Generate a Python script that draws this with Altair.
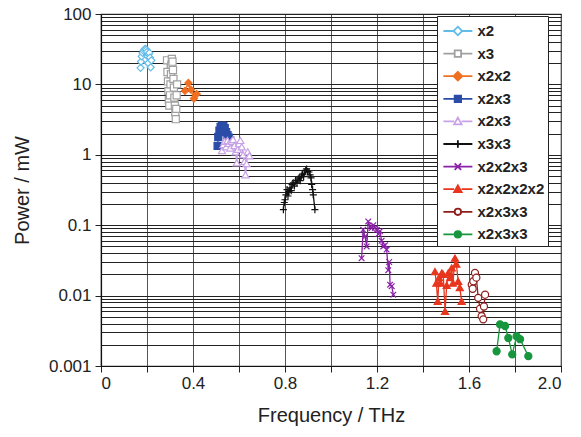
import altair as alt
import pandas as pd

# ---------------- data ----------------
keys = ["x2", "x3", "x2x2", "x2x3", "x2x3 ", "x3x3", "x2x2x3", "x2x2x2x2", "x2x3x3", "x2x3x3 "]
colors = ["#62BCE8", "#A0A0A0", "#F07022", "#2B4DA8", "#C8A2E6", "#111111",
          "#8A22A8", "#E8361E", "#8E1D1D", "#17963E"]
fills = ["white", "white", "#F07022", "#2B4DA8", "white", "transparent",
         "transparent", "#E8361E", "white", "#17963E"]

f_x2 = [0.172, 0.174, 0.177, 0.181, 0.185, 0.189, 0.193, 0.197, 0.200, 0.203, 0.205, 0.207, 0.210, 0.213, 0.216, 0.219]
p_x2 = [17.2, 21, 25, 28, 30, 31.5, 32, 31, 29, 25, 20, 27, 28, 24, 17.5, 22]

f_x3 = [0.287, 0.289, 0.291, 0.293, 0.295, 0.297, 0.300, 0.302, 0.304, 0.306, 0.308,
        0.311, 0.313, 0.315, 0.317, 0.319, 0.321, 0.323, 0.325, 0.327, 0.329, 0.331]
p_x3 = [22, 15, 11, 8, 6, 5, 7, 10, 14, 19, 23, 21, 16, 12, 9, 6.5, 5, 4, 3.2, 4.5, 7, 10]

f_x2x2 = [0.365, 0.380, 0.391, 0.404, 0.416]
p_x2x2 = [8.1, 10.5, 8.4, 6.3, 7.3]

f_x2x3a = [0.507, 0.510, 0.515, 0.520, 0.526, 0.532, 0.538, 0.544, 0.550, 0.556, 0.562, 0.566]
p_x2x3a = [1.34, 1.8, 2.2, 2.5, 2.6, 2.55, 2.4, 2.1, 1.9, 1.75, 1.6, 1.45]

f_x2x3b = [0.526, 0.532, 0.538, 0.544, 0.550, 0.556, 0.562, 0.568, 0.574, 0.580, 0.585,
           0.590, 0.595, 0.600, 0.606, 0.612, 0.618, 0.623, 0.628, 0.633, 0.638, 0.645]
p_x2x3b = [1.15, 1.4, 1.55, 1.3, 1.6, 1.45, 1.25, 1.55, 1.65, 1.35, 1.1,
           0.77, 1.2, 1.45, 1.6, 1.3, 1.0, 0.8, 0.52, 0.75, 1.1, 0.97]

f_x3x3 = [0.793, 0.797, 0.800, 0.804, 0.809, 0.813, 0.817, 0.822, 0.827, 0.831, 0.836, 0.841,
          0.846, 0.852, 0.857, 0.862, 0.866, 0.871, 0.876, 0.881, 0.886, 0.890, 0.894, 0.898,
          0.904, 0.909, 0.913, 0.916, 0.920, 0.923, 0.930]
p_x3x3 = [0.166, 0.21, 0.23, 0.27, 0.32, 0.26, 0.30, 0.34, 0.31, 0.38, 0.40, 0.36,
          0.43, 0.40, 0.45, 0.47, 0.43, 0.50, 0.53, 0.49, 0.57, 0.60, 0.63, 0.58,
          0.57, 0.52, 0.47, 0.38, 0.32, 0.27, 0.166]

f_x2x2x3 = [1.133, 1.140, 1.148, 1.155, 1.162, 1.170, 1.177, 1.184, 1.191, 1.199, 1.206,
            1.213, 1.220, 1.227, 1.235, 1.242, 1.249, 1.253, 1.257, 1.264, 1.271]
p_x2x2x3 = [0.034, 0.086, 0.069, 0.05, 0.113, 0.095, 0.091, 0.10, 0.091, 0.086, 0.075,
            0.082, 0.06, 0.05, 0.052, 0.045, 0.023, 0.03, 0.0143, 0.0136, 0.0103]

f_x2x2x2x2 = [1.452, 1.458, 1.464, 1.470, 1.476, 1.482, 1.488, 1.496, 1.503, 1.510,
              1.518, 1.525, 1.530, 1.539, 1.545, 1.553, 1.560, 1.568]
p_x2x2x2x2 = [0.022, 0.015, 0.0083, 0.018, 0.015, 0.021, 0.02, 0.006, 0.014, 0.021,
              0.018, 0.0247, 0.015, 0.034, 0.028, 0.016, 0.013, 0.0083]

f_x2x3x3a = [1.612, 1.616, 1.619, 1.626, 1.632, 1.640, 1.648, 1.655, 1.662, 1.665, 1.670]
p_x2x3x3a = [0.0143, 0.0125, 0.016, 0.021, 0.018, 0.0093, 0.0065, 0.0051, 0.0046, 0.007, 0.0103]

f_x2x3x3b = [1.720, 1.735, 1.757, 1.771, 1.788, 1.807, 1.822, 1.858]
p_x2x3x3b = [0.00162, 0.0039, 0.0037, 0.0025, 0.00146, 0.00265, 0.0024, 0.00138]

series_f = [f_x2, f_x3, f_x2x2, f_x2x3a, f_x2x3b, f_x3x3, f_x2x2x3, f_x2x2x2x2, f_x2x3x3a, f_x2x3x3b]
series_p = [p_x2, p_x3, p_x2x2, p_x2x3a, p_x2x3b, p_x3x3, p_x2x2x3, p_x2x2x2x2, p_x2x3x3a, p_x2x3x3b]

x_ticks = [0, 0.2, 0.4, 0.6, 0.8, 1.0, 1.2, 1.4, 1.6, 1.8, 2.0]
y_major = [0.001, 0.01, 0.1, 1, 10, 100]

# ---------------- shapes ----------------
PLUS = "M-1,0H1M0,-1V1"
XMARK = "M-0.8,-0.8L0.8,0.8M-0.8,0.8L0.8,-0.8"
shapes = ["diamond", "square", "diamond", "square", "triangle-up", PLUS, XMARK,
          "triangle-up", "circle", "circle"]

rows = []
for k, fs, ps, shp, fl in zip(keys, series_f, series_p, shapes, fills):
    for i, (f, p) in enumerate(zip(fs, ps)):
        rows.append({"key": k, "f": f, "p": p, "i": i, "shp": shp, "fll": fl})
df = pd.DataFrame(rows)

y_grid = []
for mj in y_major[:-1]:
    for j in range(1, 10):
        y_grid.append(float(f"{j * mj:.6g}"))
y_grid.append(100.0)

cx, L0, L1, m = 0.56, -0.82, 1.94, 0.36


def fmt(v):
    return f"{v:.3f}"


def leg_path(kind):
    line_l = f"M{fmt(L0)},0H{fmt(cx - m)}"
    line_r = f"M{fmt(cx + m)},0H{fmt(L1)}"
    if kind == "diamond":
        d = m * 1.15
        mk = f"M{fmt(cx)},{fmt(-d)}L{fmt(cx + d)},0L{fmt(cx)},{fmt(d)}L{fmt(cx - d)},0Z"
    elif kind == "square":
        d = m * 0.85
        mk = f"M{fmt(cx - d)},{fmt(-d)}H{fmt(cx + d)}V{fmt(d)}H{fmt(cx - d)}Z"
    elif kind == "triangle-up":
        mk = f"M{fmt(cx)},{fmt(-m)}L{fmt(cx + m)},{fmt(m * 0.8)}L{fmt(cx - m)},{fmt(m * 0.8)}Z"
    elif kind == "circle":
        d = m * 0.85
        mk = (f"M{fmt(cx - d)},0A{fmt(d)},{fmt(d)} 0 1,0 {fmt(cx + d)},0"
              f"A{fmt(d)},{fmt(d)} 0 1,0 {fmt(cx - d)},0Z")
    elif kind == "plus":
        return f"M{fmt(L0)},0H{fmt(L1)}M{fmt(cx)},{fmt(-m)}V{fmt(m)}"
    else:  # x
        d = m * 0.85
        return (f"M{fmt(L0)},0H{fmt(L1)}M{fmt(cx - d)},{fmt(-d)}L{fmt(cx + d)},{fmt(d)}"
                f"M{fmt(cx - d)},{fmt(d)}L{fmt(cx + d)},{fmt(-d)}")
    return line_l + line_r + mk


leg_kinds = ["diamond", "square", "diamond", "square", "triangle-up", "plus", "x",
             "triangle-up", "circle", "circle"]
shape_expr = "'circle'"
fill_expr = "'transparent'"
for k, kind, fl in reversed(list(zip(keys, leg_kinds, fills))):
    shape_expr = f"datum.value === '{k}' ? '{leg_path(kind)}' : ({shape_expr})"
    fill_expr = f"datum.value === '{k}' ? '{fl}' : ({fill_expr})"

legend = alt.Legend(
    title=None, orient="none", legendX=336, legendY=2,
    fillColor="white", strokeColor="#222", padding=3.5,
    symbolSize=441, labelOffset=14, rowPadding=2.6,
    labelFont="Liberation Sans", labelFontSize=15, labelFontWeight="bold",
    labelColor="#222", symbolStrokeWidth=1.8,
    symbolType={"expr": shape_expr},
    symbolFillColor={"expr": fill_expr},
)

xenc = alt.X("f:Q", scale=alt.Scale(domain=[0, 2], nice=False, zero=False),
             axis=alt.Axis(values=x_ticks, title="Frequency / THz",
                           labelExpr="round(datum.value*10) % 4 == 0 ? (datum.value == 0 ? '0' : format(datum.value, '.1f')) : ''",
                           gridColor="#555", gridWidth=1, gridOpacity=1,
                           tickSize=6, tickColor="#222", labelPadding=3,
                           titlePadding=14))
yenc = alt.Y("p:Q", scale=alt.Scale(type="log", domain=[0.001, 100], nice=False),
             axis=alt.Axis(values=y_grid, title="Power / mW",
                           labelExpr="abs(log(datum.value)/LN10 - round(log(datum.value)/LN10)) < 1e-6 ? format(datum.value, '~g') : ''",
                           tickOpacity={"condition": {"test": "abs(log(datum.value)/LN10 - round(log(datum.value)/LN10)) < 1e-6", "value": 1}, "value": 0},
                           gridColor="#222", gridWidth=1, gridOpacity=1,
                           tickSize=6, tickColor="#222", labelPadding=4,
                           titlePadding=16))

cscale = alt.Scale(domain=keys, range=colors)
lines = alt.Chart(df).mark_line(strokeWidth=1.3).encode(
    x=xenc, y=yenc,
    color=alt.Color("key:N", scale=cscale, legend=legend),
    detail="key:N",
    order="i:Q",
)
points = alt.Chart(df).mark_point(size=50, strokeWidth=1.2, opacity=1).encode(
    x=xenc, y=yenc,
    color=alt.Color("key:N", scale=cscale, legend=legend),
    shape=alt.Shape("shp:N", scale=None),
    fill=alt.Fill("fll:N", scale=None),
)

chart = alt.layer(lines, points).properties(
    width=460, height=352,
    background="white",
    autosize=alt.AutoSizeParams(type="none"),
    padding={"left": 101, "top": 14, "right": 20, "bottom": 71},
).configure_view(stroke="#333", strokeWidth=1.2).configure_axis(
    labelFont="Liberation Sans", titleFont="Liberation Sans",
    labelFontSize=17, titleFontSize=20, labelColor="#222", titleColor="#222",
    titleFontWeight="normal", domainColor="#111", domainWidth=1.2,
)

chart.save("out.html", embed_options={"renderer": "svg", "actions": False})
